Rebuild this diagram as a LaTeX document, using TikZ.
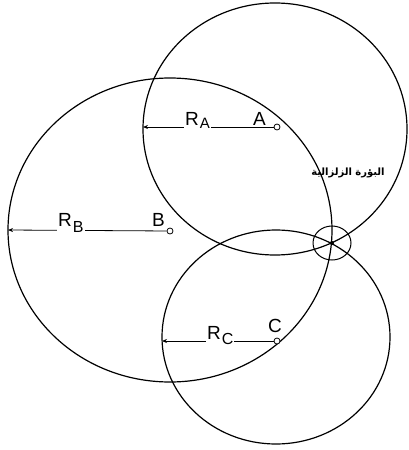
\documentclass[tikz,border=0pt]{standalone}
\usepackage{fontspec}
\setmainfont{Liberation Sans}
\newfontfamily\arabicfont[Script=Arabic]{DejaVu Sans}
\TeXXeTstate=1
\usetikzlibrary{arrows.meta}
\begin{document}
\begin{tikzpicture}[x=1pt,y=-1pt,
  ring/.style={draw=black,line width=1.2pt},
  ptmark/.style={circle,draw=black,fill=white,line width=0.8pt,inner sep=0pt,minimum size=6pt},
  radiusline/.style={draw=black,line width=0.8pt,-{Stealth[length=5pt,width=4pt]}},
  biglab/.style={anchor=base west,inner sep=0pt,font=\fontsize{19}{19}\selectfont},
  rlab/.style={anchor=base west,inner xsep=1pt,inner ysep=0pt,fill=white,font=\fontsize{19}{19}\selectfont}]
\useasboundingbox (0,0) rectangle (408,450);
% centres of the circles
\coordinate (cA) at (275,129);
\coordinate (cB) at (170,230);
\coordinate (cC) at (276,337);
\coordinate (F) at (332,243);
% big circles
\draw[ring] (cA) ellipse [x radius=132pt,y radius=126pt];
\draw[ring] (cB) ellipse [x radius=162pt,y radius=152pt];
\draw[ring] (cC) ellipse [x radius=114pt,y radius=107pt];
% focus
\draw[ring,line width=1pt] (F) ellipse [x radius=19pt,y radius=17pt];
\fill[black] (F) circle [radius=2pt];
% points and radii
\node[ptmark] (A) at (277,127) {};
\node[ptmark] (B) at (170,231) {};
\node[ptmark] (C) at (277,341) {};
\coordinate (ea) at (143,127);
\coordinate (eb) at (8,230);
\coordinate (ec) at (162,341);
\draw[radiusline] (A) -- (ea);
\draw[radiusline] (B) -- (eb);
\draw[radiusline] (C) -- (ec);
% labels
\node[rlab] (ra) at (184,125) {R\kern1pt\raisebox{-3pt}{\fontsize{15}{15}\selectfont A}};
\node[rlab] (rb) at (57,226) {R\kern1pt\raisebox{-6pt}{\fontsize{16}{16}\selectfont B}};
\node[rlab] (rc) at (206,339) {R\kern1pt\raisebox{-5pt}{\fontsize{16}{16}\selectfont C}};
\node[biglab] (la) at (253,125) {A};
\node[biglab] (lb) at (152,226) {B};
\node[biglab] (lc) at (268,332) {C};
\node[inner sep=0pt,font=\arabicfont\bfseries\fontsize{10}{11}\selectfont] (lf) at (348,173) {\beginR البؤرة الزلزالية\endR};
\end{tikzpicture}
\end{document}
